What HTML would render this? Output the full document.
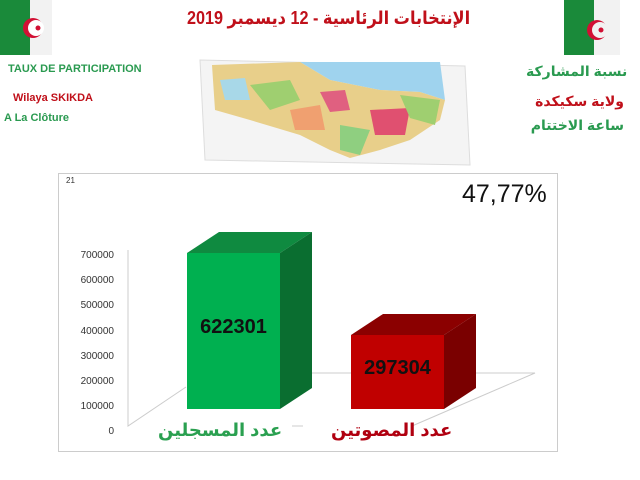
<!DOCTYPE html>
<html><head><meta charset="utf-8"><style>
body{margin:0;width:640px;height:480px;background:#fff;position:relative;overflow:hidden;font-family:"Liberation Sans","DejaVu Sans",sans-serif}
.a{position:absolute;white-space:nowrap}
</style></head><body>
<svg class="a" style="left:0;top:0" width="640" height="480">
  <g>
    <rect x="0" y="0" width="30" height="55" fill="#1a8a3a"/>
    <rect x="30" y="0" width="22" height="55" fill="#f2f2f2"/>
    <circle cx="33" cy="28" r="10" fill="#d21034"/><circle cx="36" cy="28" r="8" fill="#fff"/>
    <circle cx="38" cy="28" r="2.5" fill="#d21034"/>
  </g>
  <g>
    <rect x="564" y="0" width="30" height="55" fill="#1a8a3a"/>
    <rect x="594" y="0" width="26" height="55" fill="#f2f2f2"/>
    <circle cx="597" cy="30" r="10" fill="#d21034"/><circle cx="600" cy="30" r="8" fill="#f2f2f2"/>
    <circle cx="601" cy="30" r="2.5" fill="#d21034"/>
  </g>
  <polygon points="200,60 465,66 470,165 205,160" fill="#f4f4f4" stroke="#ddd"/>
  <polygon points="300,62 440,62 445,100 420,92 380,90 330,80" fill="#9fd3ee"/>
  <polygon points="212,65 300,62 330,80 380,90 420,92 445,100 440,120 410,140 380,150 350,158 330,150 300,135 250,120 215,110" fill="#e8cf8a"/>
  <polygon points="250,85 290,80 300,100 270,110" fill="#9fcf70"/>
  <polygon points="320,92 345,90 350,110 330,112" fill="#e06080"/>
  <polygon points="370,110 410,108 405,135 375,135" fill="#e05070"/>
  <polygon points="220,80 245,78 250,100 225,100" fill="#a8d8e8"/>
  <polygon points="340,125 370,130 360,155 340,150" fill="#8fcf80"/>
  <polygon points="400,95 440,100 435,125 410,118" fill="#9fcf70"/>
  <polygon points="290,110 320,105 325,130 295,130" fill="#f0a070"/>
  <rect x="58.5" y="173.5" width="499" height="278" fill="#fff" stroke="#ccc"/>
  <polyline points="128,250 128,426 186,387" fill="none" stroke="#ccc"/>
  <polyline points="412,426 535,373 310,373" fill="none" stroke="#ccc"/>
  <line x1="292" y1="426" x2="303" y2="426" stroke="#ccc"/>
  <polygon points="187,253 219,232 312,232 280,253" fill="#0f8a40"/>
  <polygon points="280,253 312,232 312,388 280,409" fill="#0a6e30"/>
  <rect x="187" y="253" width="93" height="156" fill="#00b050"/>
  <polygon points="351,335 383,314 476,314 444,335" fill="#8b0000"/>
  <polygon points="444,335 476,314 476,388 444,409" fill="#7a0000"/>
  <rect x="351" y="335" width="93" height="74" fill="#c00000"/>
</svg>
<div class="a" style="left:172px;top:8px;width:300px;text-align:center;font-size:18px;font-weight:bold;color:#c0101a;transform:scaleX(0.9)">الإنتخابات الرئاسية - 12 ديسمبر 2019</div>
<div class="a" style="left:8px;top:63px;font-size:11px;font-weight:bold;color:#2a9a50">TAUX DE PARTICIPATION</div>
<div class="a" style="left:13px;top:92px;font-size:11px;font-weight:bold;color:#c0101a">Wilaya SKIKDA</div>
<div class="a" style="left:4px;top:112px;font-size:11px;font-weight:bold;color:#2a9a50">A La Clôture</div>
<div class="a" style="left:526px;top:63px;width:98px;text-align:right;font-size:14px;font-weight:bold;color:#2a9a50">نسبة المشاركة</div>
<div class="a" style="left:526px;top:93px;width:98px;text-align:right;font-size:14px;font-weight:bold;color:#c0101a">ولاية  سكيكدة</div>
<div class="a" style="left:526px;top:117px;width:98px;text-align:right;font-size:14px;font-weight:bold;color:#2a9a50">ساعة الاختتام</div>
<div class="a" style="left:66px;top:176px;font-size:8px;color:#333">21</div>
<div class="a" style="left:462px;top:180px;font-size:25px;color:#111">47,77%</div>
<div class="a" style="left:56px;top:243px;width:58px;text-align:right;font-size:10px;line-height:25.2px;color:#333">700000<br>600000<br>500000<br>400000<br>300000<br>200000<br>100000<br>0</div>
<div class="a" style="left:187px;top:316px;width:93px;text-align:center;font-size:20px;font-weight:bold;color:#111">622301</div>
<div class="a" style="left:351px;top:357px;width:93px;text-align:center;font-size:20px;font-weight:bold;color:#111">297304</div>
<div class="a" style="left:158px;top:420px;width:120px;text-align:center;font-size:18px;font-weight:bold;color:#2aa050">عدد المسجلين</div>
<div class="a" style="left:331px;top:420px;width:120px;text-align:center;font-size:18px;font-weight:bold;color:#b00010">عدد المصوتين</div>
</body></html>
